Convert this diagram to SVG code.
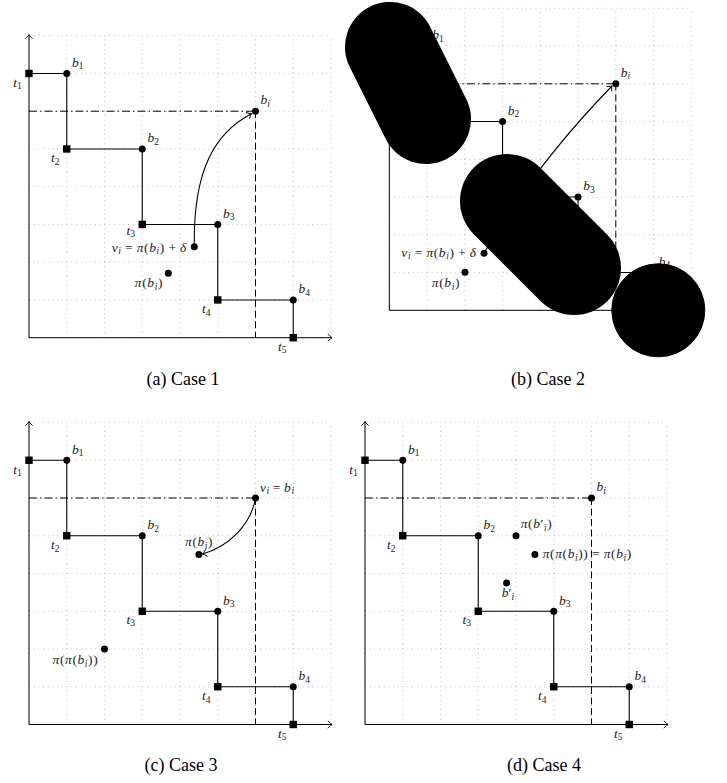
<svg xmlns="http://www.w3.org/2000/svg" xmlns:xlink="http://www.w3.org/1999/xlink" width="727" height="783" viewBox="0 0 727 783">
<style>
.grid{stroke:#9a9a9a;stroke-width:0.8;stroke-dasharray:0.8 3.92;fill:none}
.axis{stroke:#000;stroke-width:1;fill:none}
.conn{stroke:#000;stroke-width:1.1;fill:none}
.dd{stroke:#000;stroke-width:1;stroke-dasharray:8 3 1.5 3;fill:none}
.dv{stroke:#000;stroke-width:1;stroke-dasharray:7 3.5;fill:none}
.m{font-family:"Liberation Serif","DejaVu Serif",serif;font-style:italic;font-size:13.5px;fill:#222}
.w{letter-spacing:0.6px}
.s{font-size:9.5px;font-style:normal}
.si{font-size:9.5px}
.u{font-style:normal}
.cap{font-family:"Liberation Serif","Times New Roman",serif;font-size:18px;fill:#000;text-anchor:middle}
.blob{fill:#000;stroke:#000}
</style>
<defs>
<marker id="arr" viewBox="-5 -5 6 10" refX="0" refY="0" markerWidth="6" markerHeight="10" markerUnits="userSpaceOnUse" orient="auto"><path d="M-4.2,-3.6 Q-1.2,-0.6 0,0 Q-1.2,0.6 -4.2,3.6" fill="none" stroke="#000" stroke-width="0.9"/></marker>
<g id="grid">
<path class="grid" d="M0,0V-302M37.75,0V-302M75.5,0V-302M113.25,0V-302M151,0V-302M188.75,0V-302M226.5,0V-302M264.25,0V-302M302,0V-302"/>
<path class="grid" d="M0,0H302M0,-37.75H302M0,-75.5H302M0,-113.25H302M0,-151H302M0,-188.75H302M0,-226.5H302M0,-264.25H302M0,-302H302"/>
<path class="axis" d="M0,0H303" marker-end="url(#arr)"/>
<path class="axis" d="M0,0V-303" marker-end="url(#arr)"/>
</g>
<rect id="sq" x="-3.7" y="-3.7" width="7.4" height="7.4" fill="#000"/>
<circle id="dot" r="3.5" fill="#000"/>
</defs>

<!-- Panel (a) -->
<g id="panel-a" transform="translate(29,337.7)">
<use xlink:href="#grid"/>
<g id="a-connectors">
<path class="dd" d="M0,-226.5H226.5"/>
<path class="dv" d="M226.5,-226.5V0"/>
<path class="conn" d="M0,-264.25H37.75V-188.75H113.25V-113.25H188.75V-37.75H264.25V0"/>
<path class="conn" d="M165.3,-91C164,-168 186,-205 222.5,-224" marker-end="url(#arr)"/>
</g>
<g id="a-t1"><use xlink:href="#sq" x="0" y="-264.25"/><text class="m" x="-15.8" y="-251">t<tspan class="s" dy="2.5">1</tspan></text></g>
<g id="a-b1"><use xlink:href="#dot" x="37.75" y="-264.25"/><text class="m" x="43" y="-271">b<tspan class="s" dy="2.5">1</tspan></text></g>
<g id="a-t2"><use xlink:href="#sq" x="37.75" y="-188.75"/><text class="m" x="22" y="-175.5">t<tspan class="s" dy="2.5">2</tspan></text></g>
<g id="a-b2"><use xlink:href="#dot" x="113.25" y="-188.75"/><text class="m" x="118.5" y="-195.5">b<tspan class="s" dy="2.5">2</tspan></text></g>
<g id="a-t3"><use xlink:href="#sq" x="113.25" y="-113.25"/><text class="m" x="97.5" y="-103">t<tspan class="s" dy="2.5">3</tspan></text></g>
<g id="a-b3"><use xlink:href="#dot" x="188.75" y="-113.25"/><text class="m" x="194" y="-120">b<tspan class="s" dy="2.5">3</tspan></text></g>
<g id="a-t4"><use xlink:href="#sq" x="188.75" y="-37.75"/><text class="m" x="173" y="-24.5">t<tspan class="s" dy="2.5">4</tspan></text></g>
<g id="a-b4"><use xlink:href="#dot" x="264.25" y="-37.75"/><text class="m" x="269.5" y="-44.5">b<tspan class="s" dy="2.5">4</tspan></text></g>
<g id="a-t5"><use xlink:href="#sq" x="264.25" y="0"/><text class="m" x="249" y="13.2">t<tspan class="s" dy="2.5">5</tspan></text></g>
<g id="a-bi"><use xlink:href="#dot" x="226.5" y="-226.5"/><text class="m" x="231.5" y="-233.5">b<tspan class="si" dy="2.5">i</tspan></text></g>
<g id="a-vi"><use xlink:href="#dot" x="165.3" y="-91"/><text class="m w" x="158" y="-86.2" text-anchor="end">v<tspan class="si" dy="2.5">i</tspan><tspan class="u" dy="-2.5" dx="3.5">=</tspan><tspan dx="3.5">π</tspan><tspan class="u">(</tspan>b<tspan class="si" dy="2.5">i</tspan><tspan class="u" dy="-2.5">)</tspan><tspan class="u" dx="3.5">+</tspan><tspan dx="3.5">δ</tspan></text></g>
<g id="a-pi"><use xlink:href="#dot" x="139.3" y="-64.4"/><text class="m w" x="134" y="-50.7" text-anchor="end">π<tspan class="u">(</tspan>b<tspan class="si" dy="2.5">i</tspan><tspan class="u" dy="-2.5">)</tspan></text></g>
</g>

<!-- Panel (b) -->
<g id="panel-b" transform="translate(389.3,310.3)">
<use xlink:href="#grid"/>
<g id="b-connectors">
<path class="dd" d="M0,-226.5H226.5"/>
<path class="dv" d="M226.5,-226.5V0"/>
<path class="conn" d="M0,-264.25H37.75V-188.75H113.25V-113.25H188.75V-37.75H264.25V0"/>
<path class="conn" d="M94.7,-57.3Q145.7,-145.3 222.7,-224.3" marker-end="url(#arr)"/>
</g>
<g id="b-t1"><use xlink:href="#sq" x="0" y="-264.25"/><text class="m" x="-15.8" y="-251">t<tspan class="s" dy="2.5">1</tspan></text></g>
<g id="b-b1"><use xlink:href="#dot" x="37.75" y="-264.25"/><text class="m" x="43" y="-271">b<tspan class="s" dy="2.5">1</tspan></text></g>
<g id="b-t2"><use xlink:href="#sq" x="37.75" y="-188.75"/><text class="m" x="22" y="-175.5">t<tspan class="s" dy="2.5">2</tspan></text></g>
<g id="b-b2"><use xlink:href="#dot" x="113.25" y="-188.75"/><text class="m" x="118.5" y="-195.5">b<tspan class="s" dy="2.5">2</tspan></text></g>
<g id="b-t3"><use xlink:href="#sq" x="113.25" y="-113.25"/><text class="m" x="97.5" y="-103">t<tspan class="s" dy="2.5">3</tspan></text></g>
<g id="b-b3"><use xlink:href="#dot" x="188.75" y="-113.25"/><text class="m" x="194" y="-120">b<tspan class="s" dy="2.5">3</tspan></text></g>
<g id="b-t4"><use xlink:href="#sq" x="188.75" y="-37.75"/><text class="m" x="173" y="-24.5">t<tspan class="s" dy="2.5">4</tspan></text></g>
<g id="b-b4"><use xlink:href="#dot" x="264.25" y="-37.75"/><text class="m" x="269.5" y="-44.5">b<tspan class="s" dy="2.5">4</tspan></text></g>
<g id="b-t5"><use xlink:href="#sq" x="264.25" y="0"/><text class="m" x="249" y="13.2">t<tspan class="s" dy="2.5">5</tspan></text></g>
<g id="b-bi"><use xlink:href="#dot" x="226.5" y="-226.5"/><text class="m" x="231.5" y="-233.5">b<tspan class="si" dy="2.5">i</tspan></text></g>
<g id="b-vi"><use xlink:href="#dot" x="94.7" y="-57"/><text class="m w" x="87.4" y="-53.6" text-anchor="end">v<tspan class="si" dy="2.5">i</tspan><tspan class="u" dy="-2.5" dx="3.5">=</tspan><tspan dx="3.5">π</tspan><tspan class="u">(</tspan>b<tspan class="si" dy="2.5">i</tspan><tspan class="u" dy="-2.5">)</tspan><tspan class="u" dx="3.5">+</tspan><tspan dx="3.5">δ</tspan></text></g>
<g id="b-pi"><use xlink:href="#dot" x="75.7" y="-38"/><text class="m w" x="70.7" y="-23.3" text-anchor="end">π<tspan class="u">(</tspan>b<tspan class="si" dy="2.5">i</tspan><tspan class="u" dy="-2.5">)</tspan></text></g>
</g>
<g id="b-blobs">
<path class="blob" d="M390,47L426,119" stroke-width="90" stroke-linecap="round"/>
<path class="blob" d="M507,201L574,268" stroke-width="94" stroke-linecap="round"/>
<circle class="blob" cx="658.3" cy="310.3" r="46.5" stroke="none"/>
</g>

<!-- Panel (c) -->
<g id="panel-c" transform="translate(29,724.5)">
<use xlink:href="#grid"/>
<g id="c-connectors">
<path class="dd" d="M0,-226.5H226.5"/>
<path class="dv" d="M226.5,-226.5V0"/>
<path class="conn" d="M0,-264.25H37.75V-188.75H113.25V-113.25H188.75V-37.75H264.25V0"/>
<path class="conn" d="M226.5,-226.5C222,-200 200,-178 173.5,-170.5" marker-end="url(#arr)"/>
</g>
<g id="c-t1"><use xlink:href="#sq" x="0" y="-264.25"/><text class="m" x="-15.8" y="-251">t<tspan class="s" dy="2.5">1</tspan></text></g>
<g id="c-b1"><use xlink:href="#dot" x="37.75" y="-264.25"/><text class="m" x="43" y="-271">b<tspan class="s" dy="2.5">1</tspan></text></g>
<g id="c-t2"><use xlink:href="#sq" x="37.75" y="-188.75"/><text class="m" x="22" y="-175.5">t<tspan class="s" dy="2.5">2</tspan></text></g>
<g id="c-b2"><use xlink:href="#dot" x="113.25" y="-188.75"/><text class="m" x="118.5" y="-195.5">b<tspan class="s" dy="2.5">2</tspan></text></g>
<g id="c-t3"><use xlink:href="#sq" x="113.25" y="-113.25"/><text class="m" x="97.5" y="-101">t<tspan class="s" dy="2.5">3</tspan></text></g>
<g id="c-b3"><use xlink:href="#dot" x="188.75" y="-113.25"/><text class="m" x="194" y="-120">b<tspan class="s" dy="2.5">3</tspan></text></g>
<g id="c-t4"><use xlink:href="#sq" x="188.75" y="-37.75"/><text class="m" x="173" y="-24.5">t<tspan class="s" dy="2.5">4</tspan></text></g>
<g id="c-b4"><use xlink:href="#dot" x="264.25" y="-37.75"/><text class="m" x="269.5" y="-44.5">b<tspan class="s" dy="2.5">4</tspan></text></g>
<g id="c-t5"><use xlink:href="#sq" x="264.25" y="0"/><text class="m" x="249" y="13.2">t<tspan class="s" dy="2.5">5</tspan></text></g>
<g id="c-vi"><use xlink:href="#dot" x="226.5" y="-226.5"/><text class="m w" x="231" y="-232.8">v<tspan class="si" dy="2.5">i</tspan><tspan class="u" dy="-2.5" dx="3">=</tspan><tspan dx="3">b</tspan><tspan class="si" dy="2.5">i</tspan></text></g>
<g id="c-pi"><use xlink:href="#dot" x="169.9" y="-169.9"/><text class="m w" x="156" y="-178.5">π<tspan class="u">(</tspan>b<tspan class="si" dy="2.5">i</tspan><tspan class="u" dy="-2.5">)</tspan></text></g>
<g id="c-ppi"><use xlink:href="#dot" x="75.5" y="-75.5"/><text class="m w" x="69.3" y="-60.5" text-anchor="end">π<tspan class="u">(</tspan>π<tspan class="u">(</tspan>b<tspan class="si" dy="2.5">i</tspan><tspan class="u" dy="-2.5">))</tspan></text></g>
</g>

<!-- Panel (d) -->
<g id="panel-d" transform="translate(365,724.5)">
<use xlink:href="#grid"/>
<g id="d-connectors">
<path class="dd" d="M0,-226.5H226.5"/>
<path class="dv" d="M226.5,-226.5V0"/>
<path class="conn" d="M0,-264.25H37.75V-188.75H113.25V-113.25H188.75V-37.75H264.25V0"/>
</g>
<g id="d-t1"><use xlink:href="#sq" x="0" y="-264.25"/><text class="m" x="-15.8" y="-251">t<tspan class="s" dy="2.5">1</tspan></text></g>
<g id="d-b1"><use xlink:href="#dot" x="37.75" y="-264.25"/><text class="m" x="43" y="-271">b<tspan class="s" dy="2.5">1</tspan></text></g>
<g id="d-t2"><use xlink:href="#sq" x="37.75" y="-188.75"/><text class="m" x="22" y="-175.5">t<tspan class="s" dy="2.5">2</tspan></text></g>
<g id="d-b2"><use xlink:href="#dot" x="113.25" y="-188.75"/><text class="m" x="118.5" y="-195.5">b<tspan class="s" dy="2.5">2</tspan></text></g>
<g id="d-t3"><use xlink:href="#sq" x="113.25" y="-113.25"/><text class="m" x="97.5" y="-101">t<tspan class="s" dy="2.5">3</tspan></text></g>
<g id="d-b3"><use xlink:href="#dot" x="188.75" y="-113.25"/><text class="m" x="194" y="-120">b<tspan class="s" dy="2.5">3</tspan></text></g>
<g id="d-t4"><use xlink:href="#sq" x="188.75" y="-37.75"/><text class="m" x="173" y="-24.5">t<tspan class="s" dy="2.5">4</tspan></text></g>
<g id="d-b4"><use xlink:href="#dot" x="264.25" y="-37.75"/><text class="m" x="269.5" y="-44.5">b<tspan class="s" dy="2.5">4</tspan></text></g>
<g id="d-t5"><use xlink:href="#sq" x="264.25" y="0"/><text class="m" x="249" y="13.2">t<tspan class="s" dy="2.5">5</tspan></text></g>
<g id="d-bi"><use xlink:href="#dot" x="226.5" y="-226.5"/><text class="m" x="231.5" y="-233.5">b<tspan class="si" dy="2.5">i</tspan></text></g>
<g id="d-pbp"><use xlink:href="#dot" x="151" y="-188.75"/><text class="m w" x="155.7" y="-196.5">π<tspan class="u">(</tspan>b<tspan class="u">′</tspan><tspan class="si" dy="2.5">i</tspan><tspan class="u" dy="-2.5">)</tspan></text></g>
<g id="d-pi"><use xlink:href="#dot" x="169.9" y="-169.9"/><text class="m w" x="177.7" y="-166.2">π<tspan class="u">(</tspan>π<tspan class="u">(</tspan>b<tspan class="si" dy="2.5">i</tspan><tspan class="u" dy="-2.5">))</tspan><tspan class="u" dx="3.5">=</tspan><tspan dx="3.5">π</tspan><tspan class="u">(</tspan>b<tspan class="si" dy="2.5">i</tspan><tspan class="u" dy="-2.5">)</tspan></text></g>
<g id="d-bp"><use xlink:href="#dot" x="141.6" y="-141.6"/><text class="m" x="136.7" y="-127.3">b<tspan class="u">′</tspan><tspan class="si" dy="2.5">i</tspan></text></g>
</g>

<text class="cap" x="183" y="385">(a) Case 1</text>
<text class="cap" x="548" y="385">(b) Case 2</text>
<text class="cap" x="181" y="771">(c) Case 3</text>
<text class="cap" x="544" y="771">(d) Case 4</text>
</svg>
